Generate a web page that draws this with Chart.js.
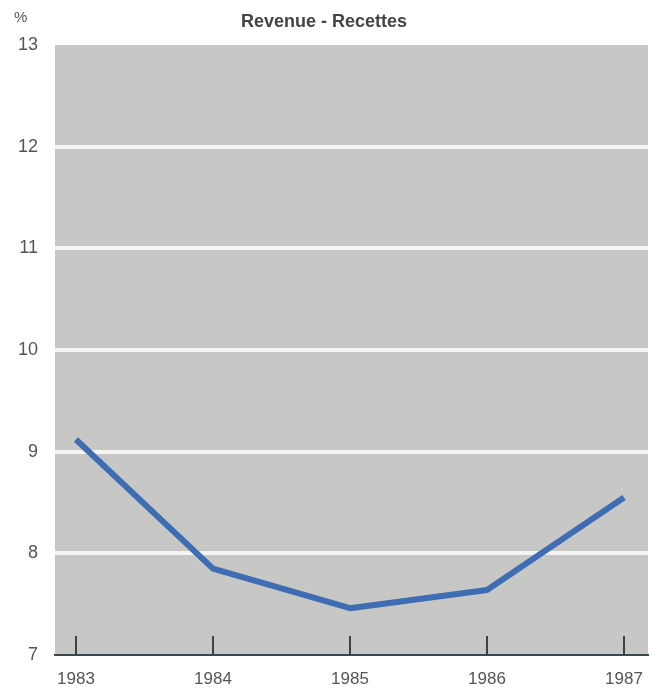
<!DOCTYPE html>
<html>
<head>
<meta charset="utf-8">
<script src="https://cdn.jsdelivr.net/npm/chart.js@4/dist/chart.umd.min.js"></script>
<style>
  html, body { margin: 0; padding: 0; background: #fff; }
  #wrap { width: 662px; height: 690px; }
</style>
</head>
<body>
<div id="wrap"><canvas id="revChart" width="662" height="690"></canvas></div>
<script>
const years = [1983, 1984, 1985, 1986, 1987];
const revenue = [9.12, 7.85, 7.46, 7.64, 8.55];
const yTicks = [7, 8, 9, 10, 11, 12, 13];
const titleText = "Revenue - Recettes";
const unitText = "%";

// gray plot background, inside tick marks and the "%" unit label
const plotDecor = {
  id: "plotDecor",
  beforeDraw(chart) {
    const { ctx, chartArea: a } = chart;
    ctx.save();
    ctx.fillStyle = "#c7c8c5";
    ctx.fillRect(a.left, a.top, a.right - a.left, a.bottom - a.top);
    ctx.restore();
  },
  afterDatasetsDraw(chart) {
    const { ctx, chartArea: a, scales } = chart;
    ctx.save();
    ctx.strokeStyle = "#3a4448";
    ctx.lineWidth = 2;
    years.forEach((yr) => {
      const x = Math.round(scales.x.getPixelForValue(yr));
      ctx.beginPath();
      ctx.moveTo(x, a.bottom - 19);
      ctx.lineTo(x, a.bottom);
      ctx.stroke();
    });
    ctx.fillStyle = "#555";
    ctx.font = "15px 'Liberation Sans', Arial, sans-serif";
    ctx.textAlign = "left";
    ctx.textBaseline = "middle";
    ctx.fillText(unitText, 14, 18);
    ctx.restore();
  }
};

const ctx = document.getElementById("revChart").getContext("2d");
const revChart = new Chart(ctx, {
  type: "line",
  data: {
    datasets: [{
      label: "Revenue",
      data: years.map((yr, i) => ({ x: yr, y: revenue[i] })),
      borderColor: "#3e6db3",
      borderWidth: 6,
      pointRadius: 0,
      tension: 0,
      borderJoinStyle: "round"
    }]
  },
  options: {
    responsive: false,
    animation: false,
    layout: { padding: { left: 0, right: 14, top: 0, bottom: 0 } },
    plugins: {
      legend: { display: false },
      tooltip: { enabled: false },
      title: {
        display: true,
        text: titleText,
        color: "#444",
        font: { family: "'Liberation Sans', Arial, sans-serif", size: 18, weight: "bold" },
        padding: { top: 11, bottom: 12.4 }
      }
    },
    scales: {
      x: {
        type: "linear",
        min: 1982.847,
        max: 1987.175,
        afterBuildTicks(scale) {
          scale.ticks = years.map((v) => ({ value: v }));
        },
        afterFit(scale) { scale.height = 35; },
        grid: { display: false },
        border: { display: true, color: "#3a4a50", width: 2 },
        ticks: {
          color: "#555",
          padding: 6,
          maxRotation: 0,
          font: { family: "'Liberation Sans', Arial, sans-serif", size: 17 },
          callback: (v) => String(v)
        }
      },
      y: {
        min: 7,
        max: 13,
        afterBuildTicks(scale) {
          scale.ticks = yTicks.map((v) => ({ value: v }));
        },
        afterFit(scale) { scale.width = 55; },
        border: { display: false },
        grid: {
          drawTicks: false,
          lineWidth: 4,
          color: (c) => (c.tick && c.tick.value > 7 && c.tick.value < 13 ? "#f4f4f2" : "rgba(0,0,0,0)")
        },
        ticks: {
          color: "#555",
          padding: 17,
          font: { family: "'Liberation Sans', Arial, sans-serif", size: 18 }
        }
      }
    }
  },
  plugins: [plotDecor]
});
</script>
</body>
</html>
